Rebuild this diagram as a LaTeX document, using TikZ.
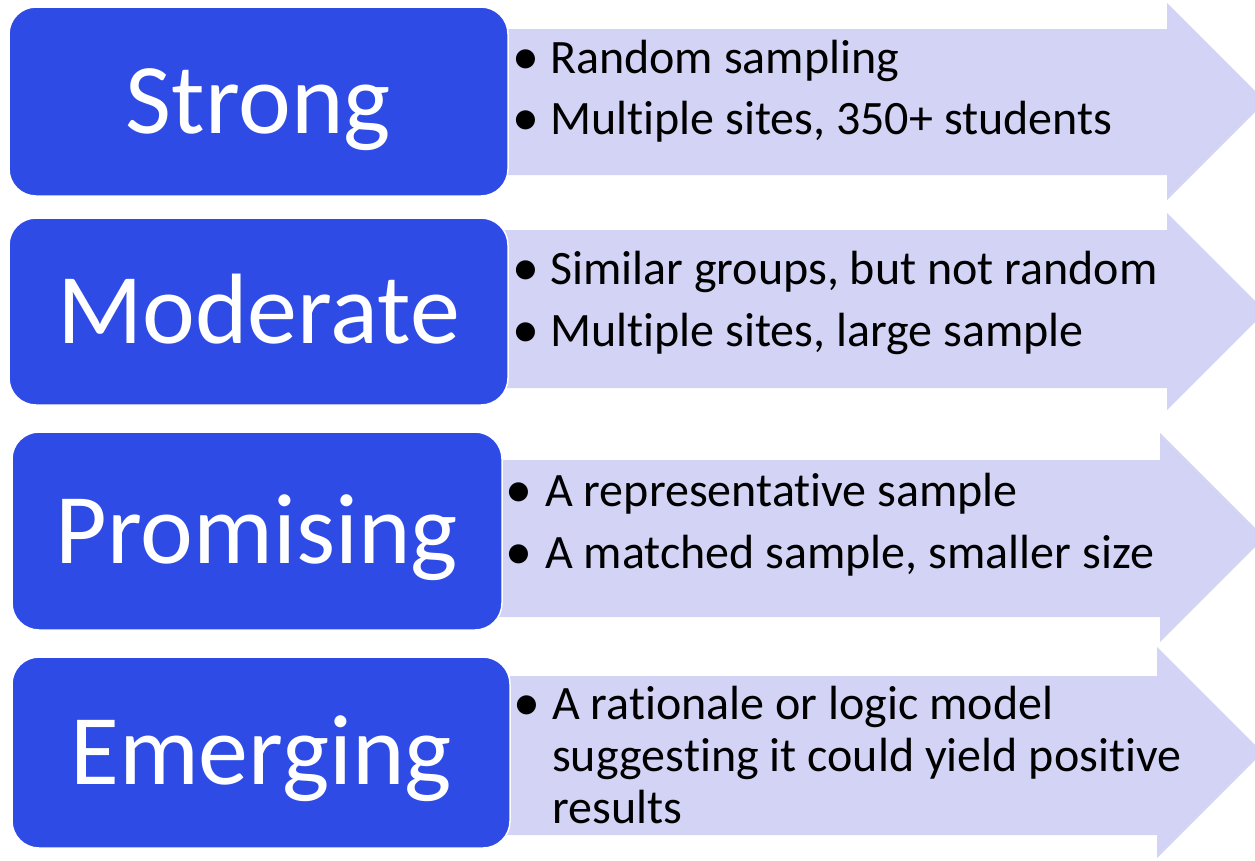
\documentclass[tikz,border=0pt]{standalone}
\usepackage{fontspec}
\setmainfont[Ligatures=CommonOff]{Carlito}
\definecolor{lvlblue}{RGB}{47,75,230}
\definecolor{lav}{RGB}{211,212,245}
\begin{document}
\begin{tikzpicture}[x=1pt,y=-1pt,
  lvl/.style={draw=white, line width=1.5pt, fill=lvlblue, rounded corners=27pt,
    text=white, inner sep=0pt, text height=64pt, text depth=0pt,
    font=\fontsize{100pt}{110pt}\selectfont},
  arr/.style={fill=lav, draw=none},
  bul/.style={anchor=base, inner sep=0pt, font=\fontsize{54pt}{58pt}\selectfont},
  itm/.style={anchor=base west, inner sep=0pt, font=\fontsize{48pt}{58pt}\selectfont}]
\useasboundingbox (0,0) rectangle (1255,860);
\begin{scope}
\clip (0,0) rectangle (1255,860);
% arrows
\fill[arr] (490,29) -- (1167,29) -- (1167,3) -- (1265.5,101.5) -- (1167,200) -- (1167,175) -- (490,175) -- cycle;
\fill[arr] (490,230) -- (1167,230) -- (1167,213) -- (1265.5,311.5) -- (1167,410) -- (1167,388) -- (490,388) -- cycle;
\fill[arr] (490,460) -- (1160,460) -- (1160,433) -- (1264.5,537.5) -- (1160,642) -- (1160,617) -- (490,617) -- cycle;
\fill[arr] (490,676) -- (1157,676) -- (1157,647) -- (1262.5,752.5) -- (1157,858) -- (1157,835) -- (490,835) -- cycle;
\end{scope}
% level boxes
\node[lvl, minimum width=499pt, minimum height=189pt] (strong) at (258.5,101.5) {Strong};
\node[lvl, minimum width=499pt, minimum height=187pt] (moderate) at (258.5,311.5) {Moderate};
\node[lvl, minimum width=490pt, minimum height=198pt] (promising) at (257,531) {Promising};
\node[lvl, minimum width=498pt, minimum height=191pt] (emerging) at (261,752.5) {Emerging};
% bullets row 1
\node[bul] (b11) at (526,74) {•};
\node[itm] (t11) at (550,73) {Random sampling};
\node[bul] (b12) at (526,135) {•};
\node[itm] (t12) at (550,134) {Multiple sites, 350+ students};
% row 2
\node[bul] (b21) at (526,285) {•};
\node[itm] (t21) at (550,284) {Similar groups, but not random};
\node[bul] (b22) at (526,347) {•};
\node[itm] (t22) at (550,346) {Multiple sites, large sample};
% row 3
\node[bul] (b31) at (519,507) {•};
\node[itm] (t31) at (545,506) {A representative sample};
\node[bul] (b32) at (519,569) {•};
\node[itm] (t32) at (545,568) {A matched sample, smaller size};
% row 4
\node[bul] (b41) at (527,720) {•};
\node[itm] (t41) at (552,719) {A rationale or logic model};
\node[itm] (t42) at (552,771) {sugges\kern0pt ting it could yield posi\kern0pt tive};
\node[itm] (t43) at (552,823) {results};
\end{tikzpicture}
\end{document}
